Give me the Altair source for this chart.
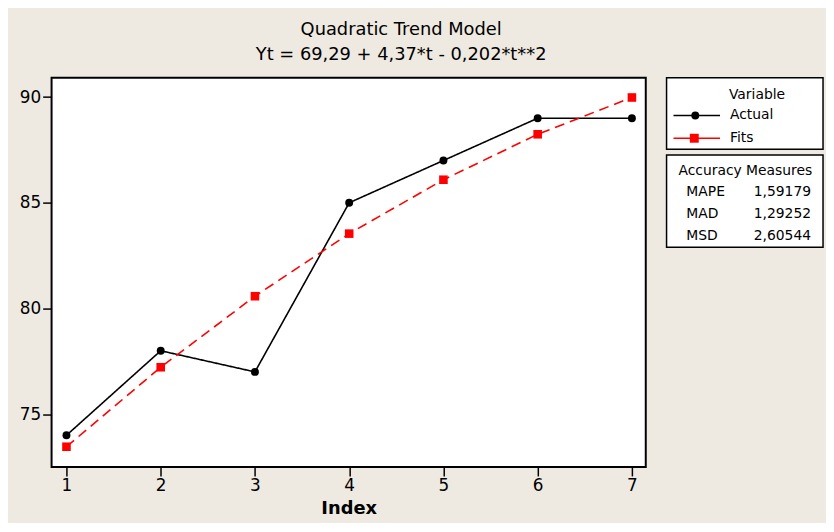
import altair as alt
import pandas as pd

# ---- data ----
index = [1, 2, 3, 4, 5, 6, 7]
actual = [74.0, 78.0, 77.0, 85.0, 87.0, 89.0, 89.0]
fits = [73.46, 77.22, 80.58, 83.54, 86.09, 88.24, 89.98]
series = ["Actual", "Fits"]
series_colors = ["black", "red"]
x_ticks = [1, 2, 3, 4, 5, 6, 7]
y_ticks = [75, 80, 85, 90]
title_lines = ["Quadratic Trend Model", "Yt = 69,29 + 4,37*t - 0,202*t**2"]
legend_title = "Variable"
acc_title = "Accuracy Measures"
acc_names = ["MAPE", "MAD", "MSD"]
acc_values = ["1,59179", "1,29252", "2,60544"]

df = pd.DataFrame({
    "Index": index * 2,
    "Value": actual + fits,
    "Variable": ["Actual"] * len(index) + ["Fits"] * len(index),
})
one = pd.DataFrame({"k": [0]})

FONT = "DejaVu Sans"
BG = "#EEEAE1"
W, H = 600, 393

x = alt.X("Index:Q",
          scale=alt.Scale(domain=[0.842, 7.147], nice=False, zero=False),
          axis=alt.Axis(values=x_ticks, format="d", title="Index",
                        titleFont=FONT, titleFontSize=18, titleFontWeight="bold",
                        titleColor="black", titlePadding=6, labelPadding=2))
y = alt.Y("Value:Q",
          scale=alt.Scale(domain=[72.50, 90.91], nice=False, zero=False),
          axis=alt.Axis(values=y_ticks, title=None, labelPadding=2))
series_scale = alt.Scale(domain=series, range=series_colors)

lines = alt.Chart(df).mark_line(strokeWidth=1.6).encode(
    x=x, y=y,
    stroke=alt.Stroke("Variable:N", scale=series_scale, legend=None),
    strokeDash=alt.StrokeDash("Variable:N",
                              scale=alt.Scale(domain=series, range=[[1, 0], [10, 6]]),
                              legend=None),
)
pts_actual = alt.Chart(df).transform_filter(alt.datum.Variable == "Actual").mark_circle(
    size=64, opacity=1).encode(x=x, y=y, fill=alt.Fill("Variable:N", scale=series_scale, legend=None))
pts_fits = alt.Chart(df).transform_filter(alt.datum.Variable == "Fits").mark_square(
    size=75, opacity=1).encode(x=x, y=y, fill=alt.Fill("Variable:N", scale=series_scale, legend=None))

# ---- boxes on the right (legend and accuracy measures) ----
box_legend = alt.Chart(one).mark_rect(fill="white", stroke="black", strokeWidth=1.5).encode(
    x=alt.value(621), x2=alt.value(779), y=alt.value(0), y2=alt.value(72))
box_acc = alt.Chart(one).mark_rect(fill="white", stroke="black", strokeWidth=1.5).encode(
    x=alt.value(621), x2=alt.value(779), y=alt.value(78), y2=alt.value(171))

txt_style = dict(font=FONT, fontSize=14, color="black", align="left", baseline="middle")

# legend entries: line segment + marker + label
leg_rows = [38, 61]
leg_layers = []
for name, col, yy, mk in zip(series, series_colors, leg_rows, ["circle", "square"]):
    leg_layers.append(alt.Chart(one).mark_rule(color=col, strokeWidth=1.6).encode(
        x=alt.value(628), x2=alt.value(675), y=alt.value(yy)))
    if mk == "circle":
        leg_layers.append(alt.Chart(one).mark_circle(color=col, size=64, opacity=1).encode(
            x=alt.value(650), y=alt.value(yy)))
    else:
        leg_layers.append(alt.Chart(one).mark_square(color=col, size=81, opacity=1).encode(
            x=alt.value(649), y=alt.value(yy)))
    leg_layers.append(alt.Chart(one).mark_text(**txt_style).encode(
        x=alt.value(685), y=alt.value(yy), text=alt.value(name)))

t_var = alt.Chart(one).mark_text(**txt_style).encode(
    x=alt.value(684), y=alt.value(17), text=alt.value(legend_title))
t_acc = alt.Chart(one).mark_text(**txt_style).encode(
    x=alt.value(633), y=alt.value(94), text=alt.value(acc_title))
t_names = alt.Chart(one).mark_text(lineHeight=21.8, **txt_style).encode(
    x=alt.value(641), y=alt.value(115.7), text=alt.value(acc_names))
t_vals = alt.Chart(one).mark_text(lineHeight=21.8, **txt_style).encode(
    x=alt.value(709), y=alt.value(115.7), text=alt.value(acc_values))

chart = alt.layer(
    box_legend, box_acc, lines, pts_actual, pts_fits,
    *leg_layers, t_var, t_acc, t_names, t_vals,
).properties(
    width=W, height=H,
    title=alt.TitleParams(text=title_lines, font=FONT, fontSize=18, fontWeight="normal",
                          color="black", anchor="middle", dx=53, lineHeight=26, offset=13),
    autosize=alt.AutoSizeParams(type="none"),
    padding={"left": 44, "top": 68, "right": 182, "bottom": 54},
).configure(
    background=BG,
).configure_view(
    stroke="black", strokeWidth=2, fill="white",
).configure_axis(
    domain=False, grid=False, ticks=True, tickColor="black", tickSize=9, tickWidth=1.5,
    labelFont=FONT, labelFontSize=17, labelColor="black",
)

chart.save("out.html", embed_options={"renderer": "svg", "actions": False})
